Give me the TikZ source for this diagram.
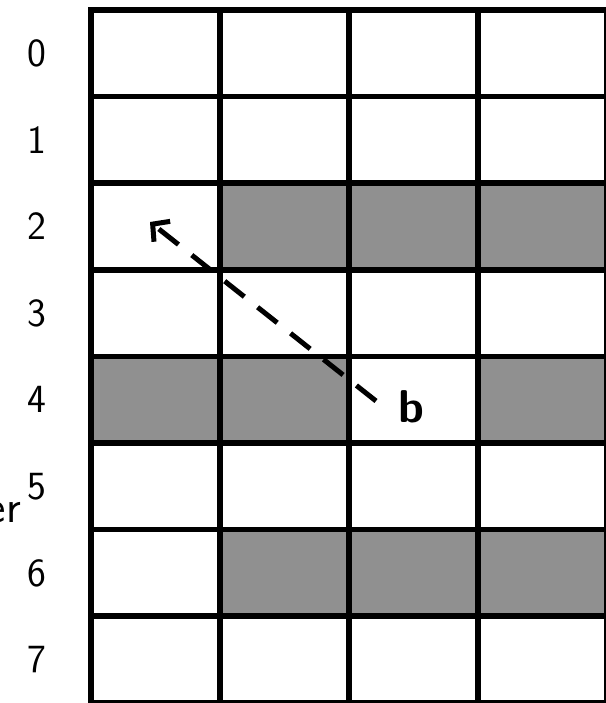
\documentclass[tikz,border=0pt]{standalone}
\usetikzlibrary{arrows.meta}
\definecolor{cellgray}{HTML}{909090}
\begin{document}
\begin{tikzpicture}[x=1pt,y=-1pt,
  gridline/.style={line width=5.5pt,line cap=rect},
  graycell/.style={fill=cellgray},
  rowlabel/.style={font=\sffamily\fontsize{40}{48}\selectfont,anchor=center},
  erlabel/.style={font=\sffamily\fontsize{46}{54}\selectfont,anchor=base east,inner sep=0pt},
  blabel/.style={font=\sffamily\fontsize{46}{54}\selectfont\bfseries,anchor=center},
  dasharrow/.style={line width=5pt,dash pattern=on 25pt off 17pt,
    -{Straight Barb[length=12pt,width=26pt,line width=5pt]}}]
\useasboundingbox (0,0) rectangle (605,703);
\def\xo{91}\def\dx{129}\def\yo{10}\def\dy{86.6}
% gray cells: row, col
\foreach \r/\c in {2/1,2/2,2/3,2/4,4/0,4/1,4/3,4/4,6/1,6/2,6/3,6/4}{
  \fill[graycell] ({\xo+\c*\dx},{\yo+\r*\dy}) rectangle ({\xo+(\c+1)*\dx},{\yo+(\r+1)*\dy});
}
% grid
\foreach \i in {0,...,8}{
  \draw[gridline] (\xo,{\yo+\i*\dy}) -- (700,{\yo+\i*\dy});
}
\foreach \j in {0,...,4}{
  \draw[gridline] ({\xo+\j*\dx},\yo) -- ({\xo+\j*\dx},760);
}
% row labels
\foreach \r in {0,...,7}{
  \node[rowlabel] (lab\r) at (37,{\yo+(\r+0.5)*\dy}) {\r};
}
\node[erlabel] (er) at (21,522) {er};
% b label and arrow
\node[blabel] (b) at (411,407) {b};
\coordinate (s) at (376,401);
\coordinate (t) at (150,222);
\draw[dasharrow] (s) -- (t);
\end{tikzpicture}
\end{document}
